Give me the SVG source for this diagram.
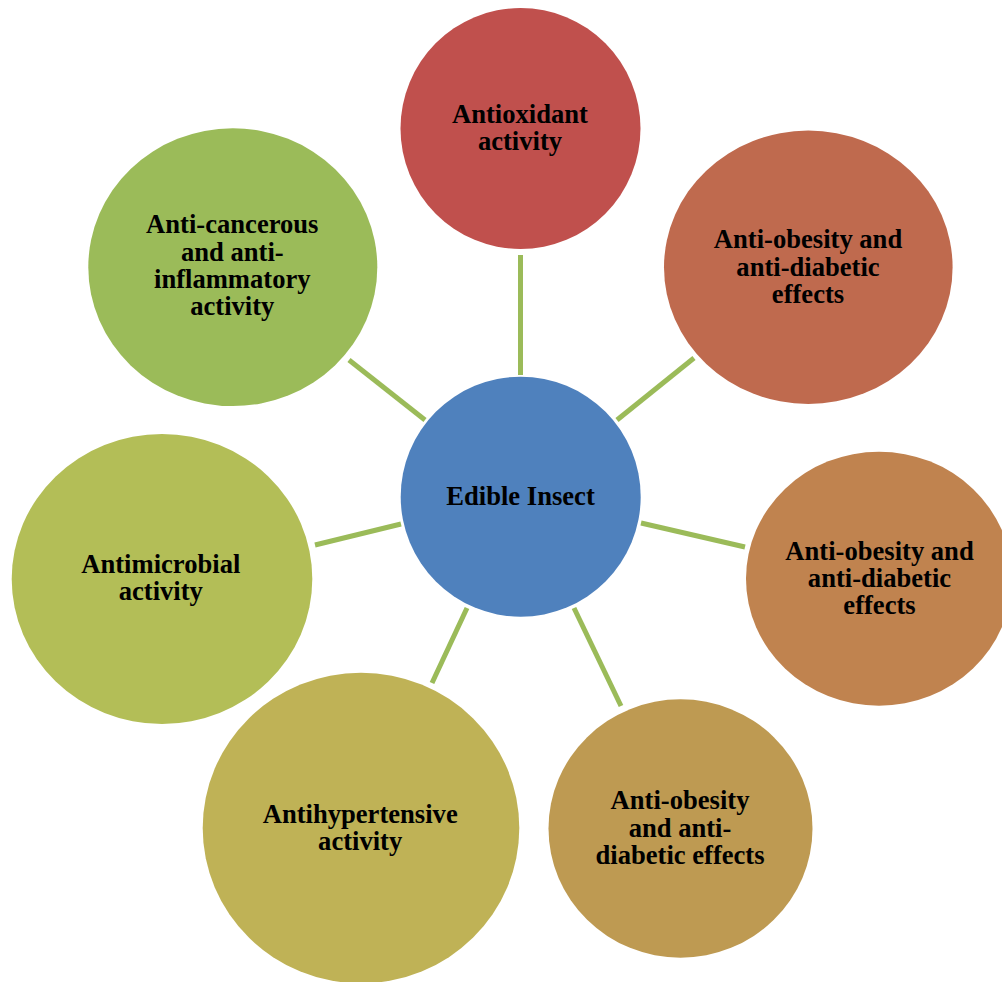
<svg xmlns="http://www.w3.org/2000/svg" width="1002" height="982" viewBox="0 0 1002 982">
  <style>
    .link { stroke: #9BBB59; stroke-width: 5; stroke-linecap: butt; fill: none; }
    .label { font-family: "Liberation Serif", "Times New Roman", serif; font-weight: bold; font-size: 26.6px; fill: #000; text-anchor: middle; }
  </style>
  <rect width="1002" height="982" fill="#FFFFFF"/>

  <!-- spokes from the hub to each outer node -->
  <g id="connectors">
    <line class="link" x1="520.5" y1="255" x2="520.5" y2="375"/>
    <line class="link" x1="617" y1="420" x2="694" y2="358"/>
    <line class="link" x1="641" y1="523" x2="745" y2="547"/>
    <line class="link" x1="574" y1="608" x2="621" y2="706"/>
    <line class="link" x1="467" y1="608" x2="432" y2="683"/>
    <line class="link" x1="401" y1="524" x2="315" y2="545"/>
    <line class="link" x1="425" y1="420" x2="349" y2="360"/>
  </g>

  <g id="node-hub">
    <circle cx="520.7" cy="496.7" r="120" fill="#4F81BD"/>
    <text class="label" x="520.5" y="505">Edible Insect</text>
  </g>

  <g id="node-antioxidant">
    <ellipse cx="520.5" cy="128.5" rx="120" ry="120.5" fill="#C0504D"/>
    <text class="label"><tspan x="520" y="122.7">Antioxidant</tspan><tspan x="520" y="150">activity</tspan></text>
  </g>

  <g id="node-obesity-1">
    <ellipse cx="808.3" cy="267.3" rx="144.3" ry="136.7" fill="#BF6A4E"/>
    <text class="label"><tspan x="808" y="248.3">Anti-obesity and</tspan><tspan x="808" y="275.5">anti-diabetic</tspan><tspan x="808" y="302.7">effects</tspan></text>
  </g>

  <g id="node-obesity-2">
    <ellipse cx="879" cy="578.7" rx="133" ry="127" fill="#C0834F"/>
    <text class="label"><tspan x="879.5" y="560">Anti-obesity and</tspan><tspan x="879.5" y="587.2">anti-diabetic</tspan><tspan x="879.5" y="614.4">effects</tspan></text>
  </g>

  <g id="node-obesity-3">
    <ellipse cx="680.5" cy="828.5" rx="132" ry="129.2" fill="#BE9A52"/>
    <text class="label"><tspan x="680" y="809.3">Anti-obesity</tspan><tspan x="680" y="836.6">and anti-</tspan><tspan x="680" y="864">diabetic effects</tspan></text>
  </g>

  <g id="node-antihypertensive">
    <ellipse cx="361" cy="828" rx="158.3" ry="155.3" fill="#BFB256"/>
    <text class="label"><tspan x="360.2" y="823">Antihypertensive</tspan><tspan x="360.2" y="850.4">activity</tspan></text>
  </g>

  <g id="node-antimicrobial">
    <ellipse cx="162" cy="579" rx="150.3" ry="145" fill="#B3BE57"/>
    <text class="label"><tspan x="160.8" y="573">Antimicrobial</tspan><tspan x="160.8" y="600.4">activity</tspan></text>
  </g>

  <g id="node-anticancer">
    <ellipse cx="232.8" cy="267.2" rx="144.5" ry="138.9" fill="#9BBB59"/>
    <text class="label"><tspan x="232.3" y="233.3">Anti-cancerous</tspan><tspan x="232.3" y="260.6">and anti-</tspan><tspan x="232.3" y="287.9">inflammatory</tspan><tspan x="232.3" y="315.2">activity</tspan></text>
  </g>
</svg>
